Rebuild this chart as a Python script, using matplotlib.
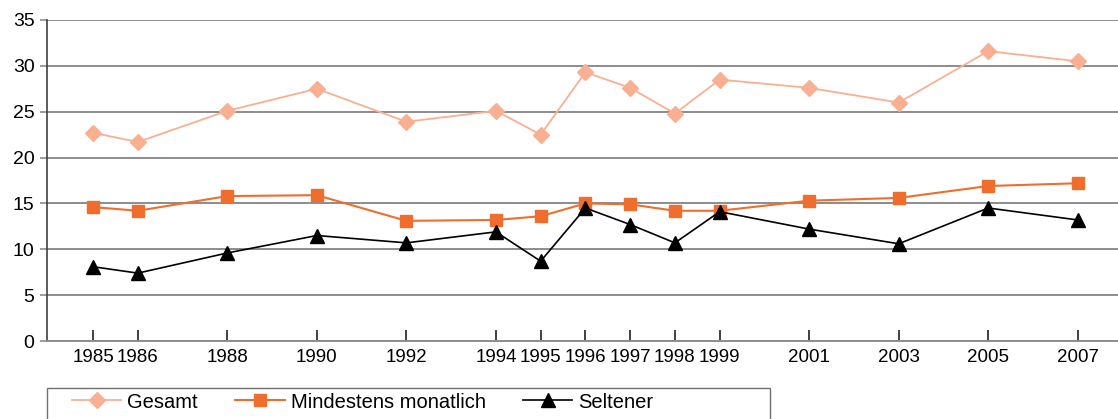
import matplotlib
matplotlib.use('Agg')
import matplotlib.pyplot as plt
from matplotlib.patches import Rectangle

plt.rcParams['font.family'] = ['Liberation Sans', 'DejaVu Sans']

# ── Daten ─────────────────────────────────────────────────────────────────────
jahre = [1985, 1986, 1988, 1990, 1992, 1994, 1995, 1996, 1997, 1998, 1999,
         2001, 2003, 2005, 2007]
gesamt = [22.7, 21.7, 25.1, 27.5, 23.9, 25.1, 22.5, 29.3, 27.6, 24.8, 28.5,
          27.6, 26.0, 31.6, 30.5]
monatlich = [14.6, 14.2, 15.8, 15.9, 13.1, 13.2, 13.6, 15.0, 14.9, 14.2, 14.2,
             15.3, 15.6, 16.9, 17.2]
seltener = [8.1, 7.4, 9.6, 11.5, 10.7, 11.9, 8.7, 14.5, 12.7, 10.7, 14.1,
            12.2, 10.6, 14.5, 13.2]
y_ticks = [0, 5, 10, 15, 20, 25, 30, 35]

W, H = 1118, 419
fig = plt.figure(figsize=(W / 100, H / 100), dpi=100)
ax = fig.add_axes([47 / W, 1 - 341 / H, 1 - 47 / W, (341 - 20) / H])

ax.plot(jahre, gesamt, color='#F9B092', marker='D', markersize=8,
        linewidth=1.3, label='Gesamt')
ax.plot(jahre, monatlich, color='#EF6E2D', marker='s', markersize=8.5,
        linewidth=1.5, label='Mindestens monatlich')
ax.plot(jahre, seltener, color='black', marker='^', markersize=10,
        linewidth=1.2, label='Seltener')

ax.set_xlim(1983.97, 2007.9)
ax.set_ylim(0, 35)
ax.set_yticks(y_ticks)
ax.set_xticks(jahre)
ax.set_xticklabels([str(j) for j in jahre])

for y in y_ticks[1:]:
    ax.axhline(y, color='#8C8C8C', linewidth=1.4, zorder=0)

for s in ['top', 'right']:
    ax.spines[s].set_visible(False)
ax.spines['left'].set_color('#404040')
ax.spines['left'].set_linewidth(1.2)
ax.spines['bottom'].set_color('#8C8C8C')
ax.spines['bottom'].set_linewidth(1.4)

ax.tick_params(axis='x', direction='in', length=8, width=1.2, color='#202020',
               labelsize=13.5, pad=6)
ax.tick_params(axis='y', direction='out', length=5, width=1.2, color='#8C8C8C',
               labelsize=14, pad=4)

# Legende unten, Rahmen von Hand
leg = fig.legend(loc='center left', bbox_to_anchor=(72 / W, 1 - 402 / H),
                 ncol=3, frameon=False, fontsize=14.5, handlelength=2.45,
                 borderaxespad=0, borderpad=0, handletextpad=0.3,
                 columnspacing=1.85)
fig.patches.append(Rectangle((47 / W, -0.05), (770 - 47) / W,
                             0.05 + (H - 388) / H, transform=fig.transFigure,
                             fill=False, edgecolor='#707070', linewidth=1.0))

fig.savefig('out.png', dpi=100)
